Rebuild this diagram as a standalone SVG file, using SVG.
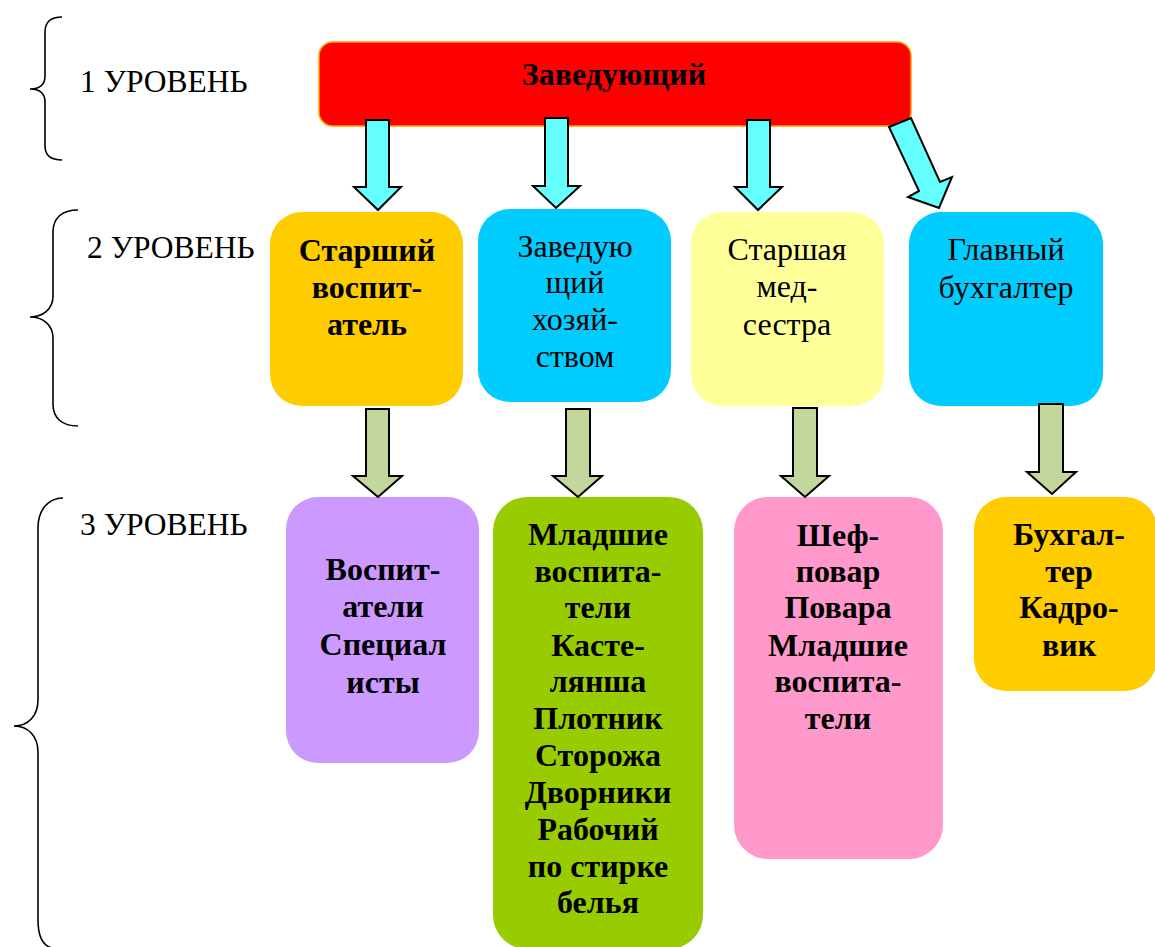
<svg xmlns="http://www.w3.org/2000/svg" width="1155" height="947" viewBox="0 0 1155 947">
<style>
.lbl{font-family:"Liberation Serif","Times New Roman",serif;font-size:31.5px;fill:#000}
.t{font-family:"Liberation Serif","Times New Roman",serif;font-size:32px;fill:#000;text-anchor:middle}
.b{font-weight:bold}
.brace{fill:none;stroke:#000;stroke-width:1.6}
.cy{fill:#66FFFF;stroke:#000;stroke-width:2;stroke-linejoin:miter}
.gr{fill:#C3D69B;stroke:#000;stroke-width:2;stroke-linejoin:miter}
</style>
<rect width="1155" height="947" fill="#fff"/>
<g id="levels">
<path class="brace" d="M62,17 C50,17 45,22 45,32 L45,76 C45,84 40,89 30,89 C40,89 45,94 45,102 L45,146 C45,155 50,160 62,160"/>
<text class="lbl" x="80" y="92">1 УРОВЕНЬ</text>
<path class="brace" d="M78,210 C62,210 53,218 53,232 L53,296 C53,309 43,317 30,317 C43,317 53,325 53,338 L53,404 C53,418 62,426 78,426"/>
<text class="lbl" x="87" y="258">2 УРОВЕНЬ</text>
<path class="brace" d="M63,498 C48,498 38,510 38,528 L38,700 C38,716 28,726 14,726 C28,726 38,736 38,752 L38,920 C38,938 44,946 52,948"/>
<text class="lbl" x="80" y="535">3 УРОВЕНЬ</text>
</g>
<g id="n-head">
<rect x="319" y="42" width="592" height="84" rx="14" fill="#FF0000" stroke="#FF9900" stroke-width="1.5"/>
<text class="t b" x="614" y="85">Заведующий</text>
</g>
<g id="n-senior-teacher">
<rect x="270" y="212" width="193" height="194" rx="32" fill="#FFCC00"/>
<text class="t b" x="367"><tspan x="367" y="261">Старший</tspan><tspan x="367" y="298">воспит-</tspan><tspan x="367" y="335">атель</tspan></text>
</g>
<g id="n-household">
<rect x="478" y="209" width="193" height="193" rx="32" fill="#00CCFF"/>
<text class="t" x="575"><tspan x="575" y="257">Заведую</tspan><tspan x="575" y="293">щий</tspan><tspan x="575" y="330">хозяй-</tspan><tspan x="575" y="367">ством</tspan></text>
</g>
<g id="n-nurse">
<rect x="691" y="212" width="193" height="194" rx="32" fill="#FFFF99"/>
<text class="t" x="787"><tspan x="787" y="260">Старшая</tspan><tspan x="787" y="297">мед-</tspan><tspan x="787" y="335">сестра</tspan></text>
</g>
<g id="n-accountant">
<rect x="909" y="212" width="194" height="194" rx="32" fill="#00CCFF"/>
<text class="t" x="1006"><tspan x="1006" y="260">Главный</tspan><tspan x="1006" y="298">бухгалтер</tspan></text>
</g>
<g id="n-teachers">
<rect x="286" y="497" width="193" height="266" rx="32" fill="#CC99FF"/>
<text class="t b" x="383"><tspan x="383" y="580">Воспит-</tspan><tspan x="383" y="617">атели</tspan><tspan x="383" y="655">Специал</tspan><tspan x="383" y="693">исты</tspan></text>
</g>
<g id="n-staff">
<rect x="493" y="497" width="210" height="452" rx="34" fill="#99CC00"/>
<text class="t b" x="598"><tspan x="598" y="545">Младшие</tspan><tspan x="598" y="582">воспита-</tspan><tspan x="598" y="618">тели</tspan><tspan x="598" y="656">Касте-</tspan><tspan x="598" y="692">лянша</tspan><tspan x="598" y="729">Плотник</tspan><tspan x="598" y="766">Сторожа</tspan><tspan x="598" y="803">Дворники</tspan><tspan x="598" y="840">Рабочий</tspan><tspan x="598" y="877">по стирке</tspan><tspan x="598" y="913">белья</tspan></text>
</g>
<g id="n-kitchen">
<rect x="734" y="497" width="209" height="362" rx="34" fill="#FF99CC"/>
<text class="t b" x="838"><tspan x="838" y="546">Шеф-</tspan><tspan x="838" y="582">повар</tspan><tspan x="838" y="618">Повара</tspan><tspan x="838" y="656">Младшие</tspan><tspan x="838" y="692">воспита-</tspan><tspan x="838" y="729">тели</tspan></text>
</g>
<g id="n-accounting">
<rect x="974" y="497" width="183" height="194" rx="32" fill="#FFCC00"/>
<text class="t b" x="1069"><tspan x="1069" y="545">Бухгал-</tspan><tspan x="1069" y="582">тер</tspan><tspan x="1069" y="618">Кадро-</tspan><tspan x="1069" y="656">вик</tspan></text>
</g>
<g id="connectors">
<polygon class="cy" points="366,120 389,120 389,187 401,187 378,210 354,187 366,187"/>
<polygon class="cy" points="545,118 568,118 568,186 580,186 556,208 533,186 545,186"/>
<polygon class="cy" points="747,120 770,120 770,187 782,187 758,210 735,187 747,187"/>
<polygon class="cy" points="889,127 911,118 940,182 952,177 939,208 908,197 919,191"/>
<polygon class="gr" points="366,409 389,409 389,476 402,476 378,497 353,476 366,476"/>
<polygon class="gr" points="566,409 590,409 590,476 602,476 578,497 553,476 566,476"/>
<polygon class="gr" points="793,408 817,408 817,476 829,476 805,497 781,476 793,476"/>
<polygon class="gr" points="1039,404 1063,404 1063,472 1076,472 1052,494 1027,472 1039,472"/>
</g>
</svg>
